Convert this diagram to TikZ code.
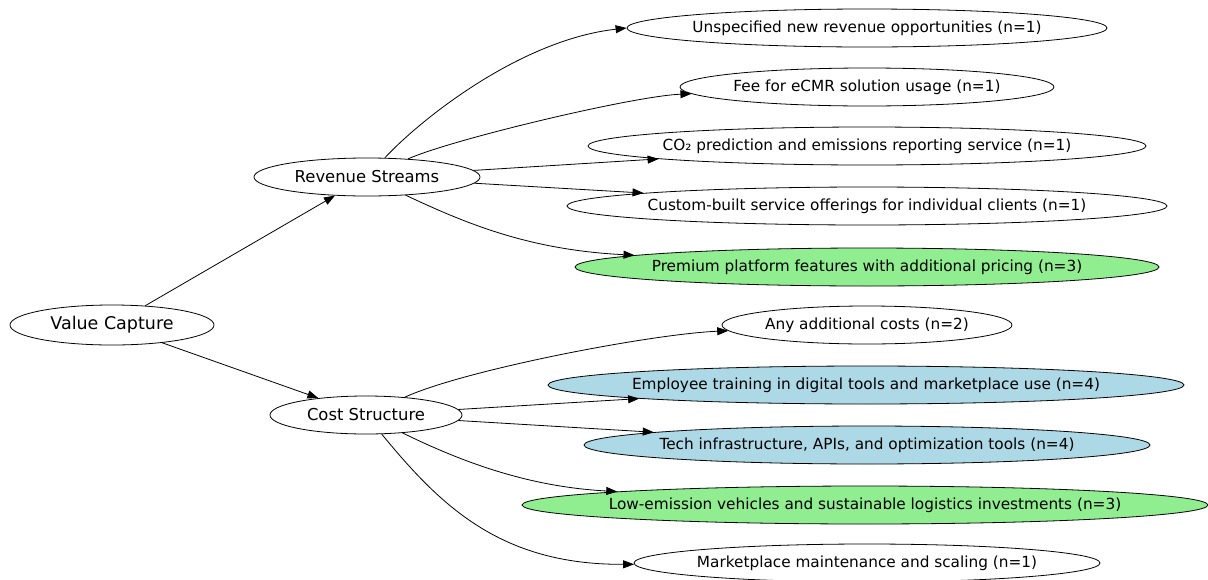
\documentclass[tikz,border=0pt]{standalone}
\usepackage{fontspec}
\setmainfont{DejaVu Sans}
\usetikzlibrary{shapes.geometric,arrows.meta}
\definecolor{greenfill}{HTML}{90EE90}
\definecolor{bluefill}{HTML}{ADD8E6}
\tikzset{
  oval/.style={ellipse, draw, line width=0.8pt, inner sep=0pt, minimum height=38pt},
  rootoval/.style={oval, minimum height=40pt, font=\fontsize{17.5}{20}\selectfont},
  midoval/.style={oval, font=\fontsize{16.4}{19}\selectfont},
  leafoval/.style={oval, inner xsep=-40pt, font=\fontsize{15.3}{18}\selectfont},
  link/.style={-{Triangle[length=11pt,width=8pt]}, line width=0.8pt}
}

\begin{document}
\begin{tikzpicture}[x=1pt,y=-1pt]
\useasboundingbox (0,0) rectangle (1208,579);
\node[rootoval, minimum width=204pt] (vc) at (112,325) {Value Capture};
\node[midoval, minimum width=226pt] (rs) at (367,177) {Revenue Streams};
\node[midoval, minimum width=192pt] (cs) at (366,415) {Cost Structure};
% revenue side
\node[leafoval, minimum width=480pt] (un) at (867,28) {Unspecified new revenue opportunities (n=1)};
\node[leafoval, minimum width=374pt] (fee) at (867,87) {Fee for eCMR solution usage (n=1)};
\node[leafoval, minimum width=558pt] (co) at (867,146) {CO₂ prediction and emissions reporting service (n=1)};
\node[leafoval, minimum width=600pt] (cb) at (867,206) {Custom-built service offerings for individual clients (n=1)};
\node[leafoval, minimum width=584pt, fill=greenfill] (pp) at (867,267) {Premium platform features with additional pricing (n=3)};
% cost side
\node[leafoval, minimum width=290pt] (ac) at (867,325) {Any additional costs (n=2)};
\node[leafoval, minimum width=636pt, fill=bluefill] (et) at (866,385) {Employee training in digital tools and marketplace use (n=4)};
\node[leafoval, minimum width=566pt, fill=bluefill] (ti) at (867,445) {Tech infrastructure, APIs, and optimization tools (n=4)};
\node[leafoval, minimum width=686pt, fill=greenfill] (le) at (865,505) {Low-emission vehicles and sustainable logistics investments (n=3)};
\node[leafoval, minimum width=466pt] (mm) at (867,563) {Marketplace maintenance and scaling (n=1)};

\draw[link] (vc) -- (rs);
\draw[link] (vc) -- (cs);
\draw[link] (rs) .. controls +(53,-57) and +(-107,12) .. (un.west);
\draw[link] (rs) .. controls +(86,-38) and +(-233,9) .. (fee);
\draw[link] (rs) -- (co);
\draw[link] (rs) -- (cb);
\draw[link] (rs) .. controls +(102,48) and +(-336,-17) .. (pp);
\draw[link] (cs) .. controls +(98,-45) and +(-216,9) .. (ac);
\draw[link] (cs) -- (et);
\draw[link] (cs) -- (ti);
\draw[link] (cs) .. controls +(102,50) and +(-332,-18) .. (le);
\draw[link] (cs) .. controls +(74,90) and +(-367,2) .. (mm);
\end{tikzpicture}
\end{document}
